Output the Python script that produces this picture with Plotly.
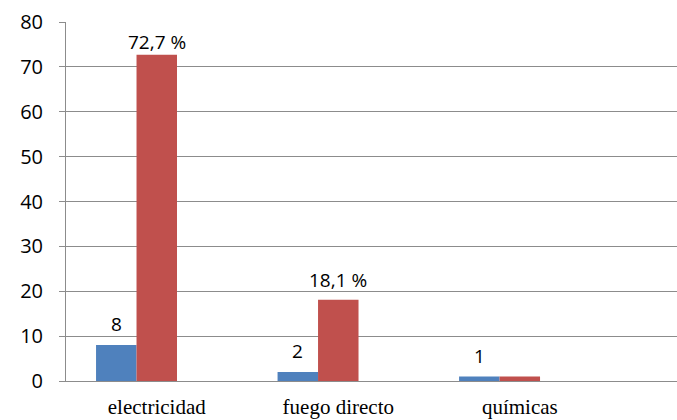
import plotly.graph_objects as go

# Causes of burns: count and share per cause
categories = ["electricidad", "fuego directo", "químicas"]
counts = [8, 2, 1]
percents = [72.7, 18.1, 1]
count_labels = ["8", "2", "1"]
percent_labels = ["72,7 %", "18,1 %", ""]
y_ticks = [0, 10, 20, 30, 40, 50, 60, 70, 80]

BLUE = "#4F81BD"
RED = "#C0504D"
GRID = "#8C8C8C"

bar_w = 0.223
x_idx = list(range(len(categories)))

fig = go.Figure()
fig.add_trace(go.Bar(x=x_idx, y=counts, marker_color=BLUE, width=bar_w,
                     offset=-1.5 * bar_w, marker_line_width=0))
fig.add_trace(go.Bar(x=x_idx, y=percents, marker_color=RED, width=bar_w,
                     offset=-0.5 * bar_w, marker_line_width=0))

label_font = dict(family="Open Sans", size=19, color="#000")
for i, (c, t) in enumerate(zip(counts, count_labels)):
    fig.add_annotation(x=i - bar_w, y=c, text=t, showarrow=False,
                       yanchor="bottom", yshift=6, font=label_font)
pct_shift = [-2, 5, 5]
for i, (p, t) in enumerate(zip(percents, percent_labels)):
    if t:
        fig.add_annotation(x=i, y=p, text=t, showarrow=False,
                           yanchor="bottom", yshift=pct_shift[i], font=label_font)

fig.update_layout(
    width=677, height=420,
    margin=dict(l=66, r=0, t=22, b=39, autoexpand=False),
    paper_bgcolor="white", plot_bgcolor="white",
    showlegend=False,
    barmode="overlay",
)
fig.update_xaxes(
    range=[-0.5, 2.866],
    tickmode="array", tickvals=x_idx, ticktext=categories,
    showgrid=False, zeroline=False,
    showline=True, linecolor=GRID, linewidth=1,
    ticks="", ticklabelstandoff=7, automargin=False,
    tickfont=dict(family="Liberation Serif, serif", size=21, color="#000"),
)
# boundary tick marks between categories
for b in [-0.5, 0.5, 1.5, 2.5]:
    fig.add_shape(type="line", xref="x", yref="y", x0=b, x1=b, y0=0, y1=-1.3,
                  line=dict(color=GRID, width=1))
fig.update_yaxes(
    range=[0, 80],
    tickmode="array", tickvals=y_ticks,
    showgrid=True, gridcolor=GRID, gridwidth=1,
    zeroline=False,
    showline=True, linecolor=GRID, linewidth=1,
    ticks="outside", ticklen=6, tickcolor=GRID,
    ticklabelstandoff=12, automargin=False,
    tickfont=dict(family="Open Sans", size=20, color="#000"),
)

fig.write_html("out.html")
